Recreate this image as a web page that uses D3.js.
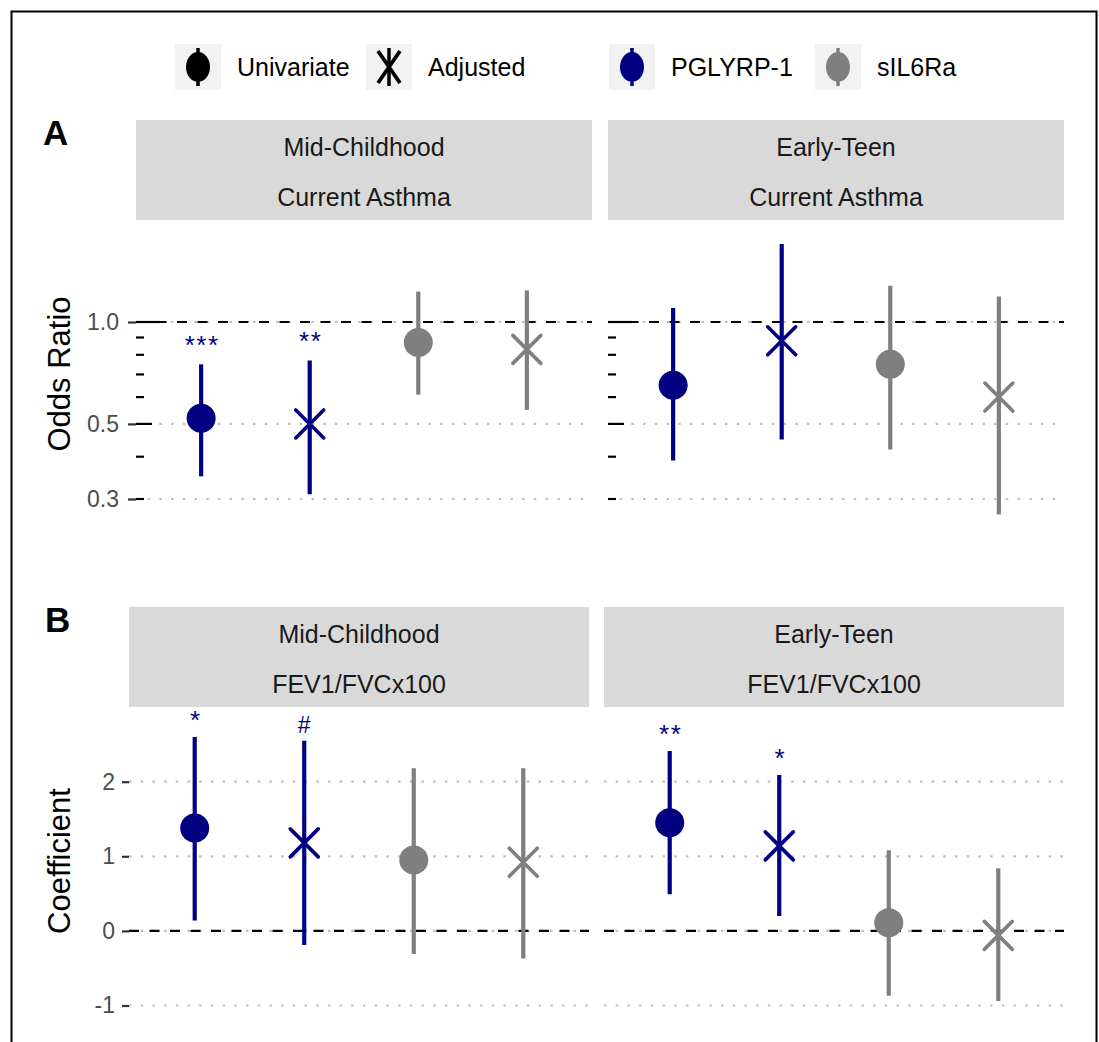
<!DOCTYPE html>
<html>
<head>
<meta charset="utf-8">
<script src="https://cdn.jsdelivr.net/npm/d3@7"></script>
<style>
  body { margin: 0; background: #fff; }
  svg { display: block; font-family: "Liberation Sans", Arial, sans-serif; }
</style>
</head>
<body>
<div id="chart"></div>
<script>
// facets and terms (order within each facet)
const periods = ["Mid-Childhood", "Early-Teen"];
const terms = ["PGLYRP-1 Univariate", "PGLYRP-1 Adjusted", "sIL6Ra Univariate", "sIL6Ra Adjusted"];
const termMarker = ["PGLYRP-1", "PGLYRP-1", "sIL6Ra", "sIL6Ra"];
const termModel = ["Univariate", "Adjusted", "Univariate", "Adjusted"];

// Panel A: current asthma, odds ratios (Mid-Childhood x4, then Early-Teen x4)
const orEstimate = [0.52, 0.50, 0.87, 0.83, 0.65, 0.88, 0.75, 0.60];
const orLower    = [0.35, 0.31, 0.61, 0.55, 0.39, 0.45, 0.42, 0.27];
const orUpper    = [0.75, 0.77, 1.23, 1.24, 1.10, 1.70, 1.28, 1.19];
const orSignif   = ["***", "**", "", "", "", "", "", ""];
const orTicks    = [0.3, 0.5, 1.0];
const orLogTicks = [0.3, 0.4, 0.5, 0.6, 0.7, 0.8, 0.9, 1.0];

// Panel B: FEV1/FVCx100, coefficients
const coefEstimate = [1.38, 1.18, 0.95, 0.92, 1.45, 1.14, 0.11, -0.06];
const coefLower    = [0.14, -0.19, -0.31, -0.37, 0.49, 0.20, -0.87, -0.94];
const coefUpper    = [2.60, 2.55, 2.18, 2.18, 2.41, 2.09, 1.08, 0.84];
const coefSignif   = ["*", "#", "", "", "**", "*", "", ""];
const coefTicks    = [-1, 0, 1, 2];

const colors = { "PGLYRP-1": "#000080", "sIL6Ra": "#7f7f7f" };

const width = 1099, height = 1042;
const svg = d3.select("#chart").append("svg")
  .attr("width", width)
  .attr("height", height);

// outer frame
svg.append("rect")
  .attr("x", 11.5).attr("y", 11.5)
  .attr("width", 1085).attr("height", 1100)
  .attr("fill", "none").attr("stroke", "#000").attr("stroke-width", 2);

// ---- legend ----
const legendItems = [
  { label: "Univariate", shape: "circle", color: "#000", x: 175 },
  { label: "Adjusted", shape: "cross", color: "#000", x: 366 },
  { label: "PGLYRP-1", shape: "circle", color: colors["PGLYRP-1"], x: 609 },
  { label: "sIL6Ra", shape: "circle", color: colors["sIL6Ra"], x: 815 }
];
const legendY = 67, keySize = 46;
const leg = svg.append("g").attr("class", "legend");
legendItems.forEach(item => {
  const g = leg.append("g").attr("transform", `translate(${item.x},${legendY - keySize / 2})`);
  g.append("rect").attr("width", keySize).attr("height", keySize).attr("fill", "#f2f2f2");
  const cx = keySize / 2, cy = keySize / 2;
  g.append("line")
    .attr("x1", cx).attr("x2", cx).attr("y1", cy - 19).attr("y2", cy + 19)
    .attr("stroke", item.color).attr("stroke-width", 3.5);
  if (item.shape === "circle") {
    g.append("ellipse").attr("cx", cx).attr("cy", cy).attr("rx", 12).attr("ry", 15)
      .attr("fill", item.color);
  } else {
    g.append("path")
      .attr("d", `M${cx - 11},${cy - 16}L${cx + 11},${cy + 16}M${cx - 11},${cy + 16}L${cx + 11},${cy - 16}`)
      .attr("stroke", item.color).attr("stroke-width", 3.8).attr("fill", "none");
  }
  leg.append("text")
    .attr("x", item.x + keySize + 16).attr("y", legendY)
    .attr("dominant-baseline", "central")
    .attr("font-size", 25).attr("fill", "#000")
    .text(item.label);
});

// ---- panel drawing ----
function drawPanel(cfg) {
  const root = svg.append("g");

  // tag
  root.append("text")
    .attr("x", cfg.tagX).attr("y", cfg.tagY)
    .attr("font-size", 35).attr("font-weight", "bold")
    .text(cfg.tag);

  // axis title
  root.append("text")
    .attr("transform", `translate(70,${(cfg.top + cfg.bottom) / 2 + cfg.titleShift}) rotate(-90)`)
    .attr("text-anchor", "middle")
    .attr("font-size", 31).attr("fill", "#000")
    .text(cfg.title);

  const y = cfg.y;

  periods.forEach((period, fi) => {
    const [x0, x1] = cfg.facets[fi];
    const x = d3.scalePoint().domain(terms).range([x0, x1]).padding(0.6);
    const g = root.append("g");

    // strip
    g.append("rect")
      .attr("x", x0).attr("y", cfg.stripTop)
      .attr("width", x1 - x0).attr("height", cfg.top - cfg.stripTop)
      .attr("fill", "#d9d9d9");
    [period, cfg.outcome].forEach((line, li) => {
      g.append("text")
        .attr("x", (x0 + x1) / 2)
        .attr("y", cfg.stripTop + 27 + li * 50)
        .attr("text-anchor", "middle")
        .attr("dominant-baseline", "central")
        .attr("font-size", 25).attr("fill", "#1a1a1a")
        .text(line);
    });

    // dotted gridlines
    g.selectAll(".grid")
      .data(cfg.ticks)
      .join("line")
      .attr("x1", x0).attr("x2", x1)
      .attr("y1", d => y(d)).attr("y2", d => y(d))
      .attr("stroke", "#bebebe").attr("stroke-width", 2.2)
      .attr("stroke-dasharray", "2.5,9.2");

    // log ticks inside panel (panel A)
    if (cfg.logTicks) {
      g.selectAll(".logtick")
        .data(cfg.logTicks)
        .join("line")
        .attr("x1", x0)
        .attr("x2", d => {
          const m = Math.round(d / Math.pow(10, Math.floor(Math.log10(d) + 1e-9)));
          return x0 + (m === 1 ? 24 : m === 5 ? 16 : 8);
        })
        .attr("y1", d => y(d)).attr("y2", d => y(d))
        .attr("stroke", "#000").attr("stroke-width", 2.2);
    }

    // reference line
    g.append("line")
      .attr("x1", x0).attr("x2", x1)
      .attr("y1", y(cfg.ref)).attr("y2", y(cfg.ref))
      .attr("stroke", "#000").attr("stroke-width", 2.2)
      .attr("stroke-dasharray", "10,10.5");

    // y axis on first facet only
    if (fi === 0) {
      const axis = d3.axisLeft(y)
        .tickValues(cfg.ticks)
        .tickFormat(cfg.tickFormat)
        .tickSize(cfg.tickSize)
        .tickPadding(cfg.tickPadding);
      const ag = g.append("g")
        .attr("transform", `translate(${x0},0)`)
        .call(axis);
      ag.select(".domain").remove();
      ag.selectAll(".tick line").attr("stroke", "#333").attr("stroke-width", 2.2);
      ag.selectAll(".tick text")
        .attr("font-size", 23).attr("fill", "#4d4d4d")
        .attr("font-family", "Liberation Sans, Arial, sans-serif");
    }

    // marks
    terms.forEach((term, ti) => {
      const i = fi * terms.length + ti;
      const cx = x(term);
      const col = colors[termMarker[ti]];
      g.append("line")
        .attr("x1", cx).attr("x2", cx)
        .attr("y1", y(cfg.lower[i])).attr("y2", y(cfg.upper[i]))
        .attr("stroke", col).attr("stroke-width", 4.2);
      const cy = y(cfg.est[i]);
      if (termModel[ti] === "Univariate") {
        g.append("circle").attr("cx", cx).attr("cy", cy).attr("r", 14.5).attr("fill", col);
      } else {
        const s = 14;
        g.append("path")
          .attr("d", `M${cx - s},${cy - s}L${cx + s},${cy + s}M${cx - s},${cy + s}L${cx + s},${cy - s}`)
          .attr("stroke", col).attr("stroke-width", 3.6).attr("stroke-linecap", "round")
          .attr("fill", "none");
      }
      if (cfg.signif[i]) {
        const stars = cfg.signif[i].includes("*");
        g.append("text")
          .attr("x", cx + (stars ? 1 : 0))
          .attr("y", y(cfg.upper[i]) - cfg.labelGap)
          .attr("text-anchor", "middle")
          .attr("font-size", stars ? 26 : 23)
          .attr("letter-spacing", stars ? 1.5 : 0)
          .attr("fill", colors["PGLYRP-1"])
          .text(cfg.signif[i]);
      }
    });
  });
}

// Panel A
drawPanel({
  tag: "A", tagX: 43, tagY: 145,
  title: "Odds Ratio", titleShift: -1,
  outcome: "Current Asthma",
  stripTop: 120, top: 220, bottom: 530,
  facets: [[136, 592], [608, 1064]],
  y: d3.scaleLog().domain([0.3, 1]).range([499, 322]),
  ticks: orTicks, logTicks: orLogTicks,
  tickFormat: d3.format(".1f"), tickSize: 8, tickPadding: 9,
  ref: 1,
  est: orEstimate, lower: orLower, upper: orUpper, signif: orSignif,
  labelGap: 10
});

// Panel B
drawPanel({
  tag: "B", tagX: 45, tagY: 632,
  title: "Coefficient", titleShift: -5,
  outcome: "FEV1/FVCx100",
  stripTop: 607, top: 707, bottom: 1025,
  facets: [[129, 589], [604, 1064]],
  y: d3.scaleLinear().domain([-1, 2]).range([1005.5, 781.7]),
  ticks: coefTicks, logTicks: null,
  tickFormat: d => String(d), tickSize: 7, tickPadding: 7,
  ref: 0,
  est: coefEstimate, lower: coefLower, upper: coefUpper, signif: coefSignif,
  labelGap: 8
});
</script>
</body>
</html>
